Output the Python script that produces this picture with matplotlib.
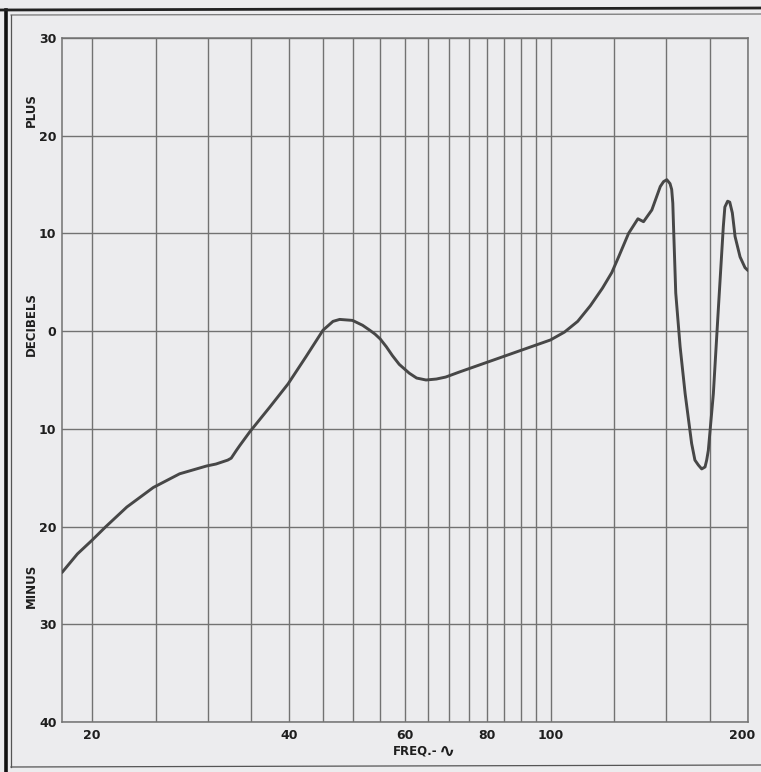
import matplotlib
matplotlib.use("Agg")
import matplotlib.pyplot as plt
from matplotlib.lines import Line2D

# ---- data ----
freq = [18.0, 19.0, 20.0, 21.0, 22.6, 24.8, 27.2, 29.9, 30.9, 32.2, 32.6, 33.2, 33.6,
        34.8, 37.3, 39.8, 42.4, 45.0, 46.6, 47.7, 49.9, 51.7, 53.0, 54.0, 55.0, 56.2,
        57.4, 58.8, 60.9, 62.5, 64.6, 67.0, 69.2, 72.5, 81.5, 91.6, 100.0, 105.0, 110.0,
        115.0, 120.0, 124.0, 127.0, 131.5, 135.9, 138.6, 142.7, 147.0, 148.7, 150.4,
        152.1, 153.0, 153.6, 154.0, 155.2, 157.6, 160.4, 164.1, 166.0, 168.0, 170.0,
        172.0, 173.0, 174.0, 177.1, 180.2, 183.4, 184.4, 186.2, 187.6, 189.3, 190.6,
        191.1, 194.5, 197.9, 200.0]
decibels = [-24.7, -22.8, -21.4, -20.0, -18.0, -16.0, -14.6, -13.8, -13.6, -13.2, -13.0, -12.2, -11.7,
            -10.3, -7.8, -5.4, -2.6, 0.1, 1.0, 1.2, 1.1, 0.6, 0.1, -0.3, -0.8, -1.6,
            -2.5, -3.4, -4.3, -4.8, -5.0, -4.9, -4.7, -4.2, -3.0, -1.8, -0.9, -0.1, 1.0,
            2.6, 4.4, 6.0, 7.6, 10.0, 11.5, 11.2, 12.4, 14.8, 15.3, 15.5,
            15.1, 14.5, 13.1, 10.7, 3.9, -1.6, -6.4, -11.5, -13.2, -13.7, -14.1,
            -13.9, -13.2, -12.2, -6.4, 2.2, 10.7, 12.7, 13.3, 13.2, 12.1, 10.4,
            9.7, 7.6, 6.5, 6.2]

x_grid = [20, 25, 30, 35, 40, 45, 50, 55, 60, 65, 70, 75, 80, 85, 90, 95, 100, 125, 150, 175, 200]
x_tick_values = [20, 40, 60, 80, 100]
x_tick_labels = ["20", "40", "60", "80", "100"]
x_end_label = "200"
y_tick_values = [-40, -30, -20, -10, 0, 10, 20, 30]
y_tick_labels = ["40", "30", "20", "10", "0", "10", "20", "30"]

paper = "#ececee"
grid_c = "#727272"
ink = "#1e1e1e"
curve_c = "#474747"

W, H = 761, 772
fig = plt.figure(figsize=(W / 100, H / 100), dpi=100, facecolor=paper)
L, R, T, B = 62, 748, 38, 722
ax = fig.add_axes([L / W, 1 - B / H, (R - L) / W, (B - T) / H])
ax.set_facecolor(paper)
ax.set_xscale("log")
ax.set_xlim(18.0, 200)
ax.set_ylim(-40, 30)

for xv in x_grid:
    ax.axvline(xv, color=grid_c, lw=1.0, zorder=1)
for yv in y_tick_values:
    ax.axhline(yv, color=grid_c, lw=1.0, zorder=1)

ax.plot(freq, decibels, color=curve_c, lw=2.1, solid_capstyle="round",
        solid_joinstyle="round", zorder=3)

for s in ax.spines.values():
    s.set_color(grid_c)
    s.set_linewidth(1.1)

ax.xaxis.set_minor_locator(matplotlib.ticker.NullLocator())
ax.set_xticks(x_tick_values)
ax.set_xticklabels(x_tick_labels)
ax.set_yticks(y_tick_values)
ax.set_yticklabels(y_tick_labels)
ax.tick_params(axis="both", length=0, colors=ink, labelsize=9)
ax.tick_params(axis="x", pad=5)
ax.tick_params(axis="y", pad=4)
for lbl in ax.get_xticklabels() + ax.get_yticklabels():
    lbl.set_fontweight("bold")

ax.annotate(x_end_label, xy=(200, 0), xycoords=("data", "axes fraction"),
            xytext=(-4, -5), textcoords="offset points", ha="center", va="top",
            fontsize=9, fontweight="bold", color=ink)

def px(x, y):
    return x / W, 1 - y / H

for txt, yy in [("PLUS", 110), ("DECIBELS", 324), ("MINUS", 586)]:
    fig.text(*px(31, yy), txt, rotation=90, ha="center", va="center",
             fontsize=8.5, fontweight="bold", color=ink)

fig.text(*px(438, 751), "FREQ.-", ha="right", va="center",
         fontsize=8.5, fontweight="bold", color=ink)
fig.text(*px(439, 751), "∿", ha="left", va="center",
         fontsize=14, fontweight="bold", color=ink)

# scanned page border
fig.add_artist(Line2D([6 / W, 6 / W], [0, 1 - 10 / H], transform=fig.transFigure,
                      color="#111111", lw=2.6))
fig.add_artist(Line2D([11 / W, 11 / W], [1 - 767 / H, 1 - 15 / H], transform=fig.transFigure,
                      color="#555555", lw=0.9))
fig.add_artist(Line2D([0, 1], [1 - 10 / H, 1 - 8 / H], transform=fig.transFigure,
                      color="#222222", lw=2.0))
fig.add_artist(Line2D([11 / W, 1], [1 - 15 / H, 1 - 14 / H], transform=fig.transFigure,
                      color="#666666", lw=0.8))
fig.add_artist(Line2D([11 / W, 1], [1 - 767 / H, 1 - 765 / H], transform=fig.transFigure,
                      color="#555555", lw=0.9))

fig.savefig("out.png", dpi=100, facecolor=paper)
